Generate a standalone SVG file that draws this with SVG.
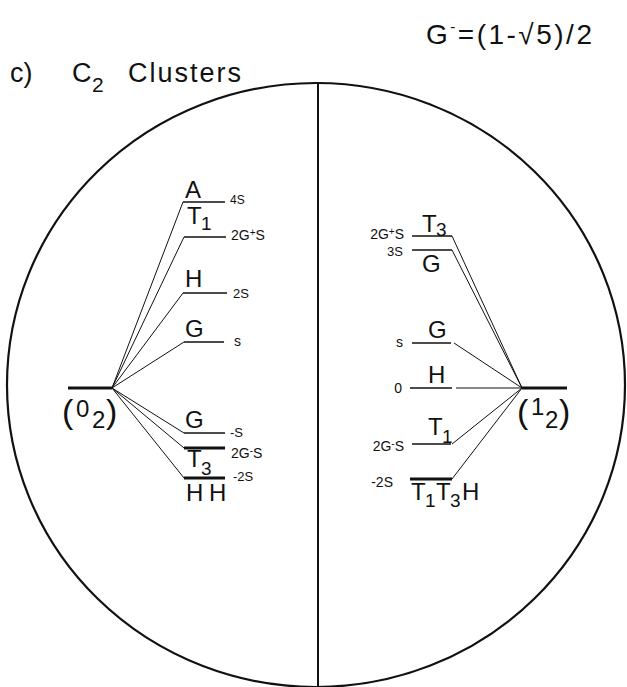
<svg xmlns="http://www.w3.org/2000/svg" width="627" height="687" viewBox="0 0 627 687">
<style>
text{font-family:"Liberation Sans",Arial,sans-serif;fill:#111}
.big{font-size:24px}
.sub{font-size:19px}
.sm{font-size:14px}
.sup{font-size:10px}
.par{font-size:34px}
.lv{stroke:#111;stroke-width:1.5;fill:none}
.lvt{stroke:#111;stroke-width:3;fill:none}
.cn line{stroke:#111;stroke-width:1}
</style>
<rect width="627" height="687" fill="#fff"/>
<g id="title">
<text x="10" y="82" font-size="27">c)</text>
<text x="72" y="82" font-size="27">C</text>
<text x="92" y="92" font-size="21">2</text>
<text x="128" y="82" font-size="27" textLength="113" lengthAdjust="spacing">Clusters</text>
</g>
<g id="formula">
<text x="426" y="44" font-size="28" letter-spacing="2.5">G<tspan font-size="15" dy="-12">-</tspan><tspan dy="12">=(1-√5)/2</tspan></text>
</g>
<g id="frame">
<ellipse cx="316" cy="385" rx="309" ry="302" fill="none" stroke="#111" stroke-width="2.2"/>
<line x1="318" y1="83" x2="318" y2="687" stroke="#111" stroke-width="2"/>
</g>
<g class="cn" id="connectors">
<line x1="112" y1="388" x2="183" y2="202"/>
<line x1="112" y1="388" x2="184" y2="237"/>
<line x1="112" y1="388" x2="183" y2="293"/>
<line x1="112" y1="388" x2="184" y2="342"/>
<line x1="112" y1="388" x2="184" y2="433"/>
<line x1="112" y1="388" x2="184" y2="448"/>
<line x1="112" y1="388" x2="184" y2="478"/>
<line x1="522" y1="388" x2="452" y2="236"/>
<line x1="522" y1="388" x2="452" y2="250"/>
<line x1="522" y1="388" x2="454" y2="343"/>
<line x1="522" y1="388" x2="456" y2="388"/>
<line x1="522" y1="388" x2="452" y2="444"/>
<line x1="522" y1="388" x2="452" y2="479"/>
</g>
<g id="hub-0">
<line class="lvt" x1="68" y1="388" x2="112" y2="388"/>
<text class="par" x="62" y="423">(</text>
<text class="big" x="76" y="417">0</text>
<text class="big" x="92" y="428">2</text>
<text class="par" x="106" y="423">)</text>
</g>
<g id="hub-1">
<line class="lvt" x1="522" y1="388" x2="567" y2="388"/>
<text class="par" x="517" y="423">(</text>
<text class="big" x="531" y="415">1</text>
<text class="big" x="545" y="428">2</text>
<text class="par" x="559" y="423">)</text>
</g>
<g id="L-A">
<line class="lv" x1="183" y1="202" x2="225" y2="202"/>
<text class="big" x="185" y="198">A</text>
<text x="230" y="204" font-size="12">4S</text>
</g>
<g id="L-T1">
<line class="lv" x1="184" y1="237" x2="226" y2="237"/>
<text class="big" x="187" y="224">T</text><text class="sub" x="201" y="230">1</text>
<text class="sm" x="231" y="240">2G<tspan class="sup" dy="-4">+</tspan><tspan dy="4">S</tspan></text>
</g>
<g id="L-H">
<line class="lv" x1="183" y1="293" x2="227" y2="293" stroke-width="2.2"/>
<text class="big" x="185" y="287">H</text>
<text x="233" y="298" font-size="13">2S</text>
</g>
<g id="L-G1">
<line class="lv" x1="184" y1="342" x2="224" y2="342"/>
<text class="big" x="185" y="337">G</text>
<text class="sm" x="234" y="346">s</text>
</g>
<g id="L-G2">
<line class="lv" x1="184" y1="433" x2="225" y2="433"/>
<text class="big" x="185" y="428">G</text>
<text x="230" y="437" font-size="13">-S</text>
</g>
<g id="L-T3">
<line class="lvt" x1="184" y1="448" x2="225" y2="448" stroke-width="2.2"/>
<text class="big" x="187" y="467">T</text><text class="sub" x="201" y="475">3</text>
<text class="sm" x="231" y="458">2G<tspan class="sup" dy="-4">-</tspan><tspan dy="4">S</tspan></text>
</g>
<g id="L-HH">
<line class="lvt" x1="184" y1="478" x2="225" y2="478"/>
<text class="big" x="186" y="501">H</text><text class="big" x="209" y="501">H</text>
<text x="233" y="481" font-size="13">-2S</text>
</g>
<g id="R-T3">
<line class="lv" x1="412" y1="236" x2="452" y2="236"/>
<text class="big" x="422" y="232">T</text><text class="sub" x="436" y="236">3</text>
<text class="sm" x="404" y="239" text-anchor="end">2G<tspan class="sup" dy="-4">+</tspan><tspan dy="4">S</tspan></text>
</g>
<g id="R-G1">
<line class="lv" x1="412" y1="250" x2="452" y2="250"/>
<text class="big" x="422" y="272">G</text>
<text x="403" y="256" font-size="13" text-anchor="end">3S</text>
</g>
<g id="R-G2">
<line class="lv" x1="412" y1="343" x2="451" y2="343"/>
<text class="big" x="428" y="338">G</text>
<text class="sm" x="403" y="347" text-anchor="end">s</text>
</g>
<g id="R-H">
<line class="lv" x1="410" y1="388" x2="452" y2="388" stroke-width="2.2"/>
<text class="big" x="428" y="383">H</text>
<text class="sm" x="402" y="393" text-anchor="end">0</text>
</g>
<g id="R-T1">
<line class="lv" x1="412" y1="444" x2="451" y2="444"/>
<text class="big" x="428" y="435">T</text><text class="sub" x="442" y="443">1</text>
<text class="sm" x="404" y="451" text-anchor="end">2G<tspan class="sup" dy="-4">-</tspan><tspan dy="4">S</tspan></text>
</g>
<g id="R-T1T3H">
<line class="lvt" x1="410" y1="479" x2="452" y2="479"/>
<text class="big" x="411" y="500">T</text><text class="sub" x="425" y="507">1</text>
<text class="big" x="436" y="500">T</text><text class="sub" x="450" y="507">3</text>
<text class="big" x="462" y="500">H</text>
<text class="sm" x="393" y="487" text-anchor="end">-2S</text>
</g>
</svg>
